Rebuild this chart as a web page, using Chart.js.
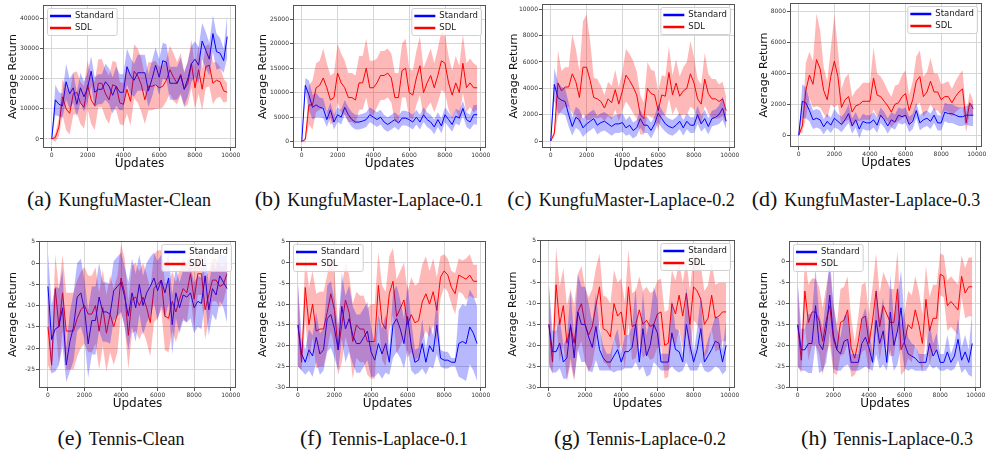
<!DOCTYPE html>
<html lang="en">
<head>
<meta charset="UTF-8">
<title>Standard vs SDL</title>
<script src="https://cdn.jsdelivr.net/npm/chart.js"></script>
<style>
  body { margin: 0; background: #fff; width: 992px; height: 452px; overflow: hidden; position: relative; }
  .panel { position: absolute; }
  .caption { position: absolute; font-family: "Liberation Serif", "Times New Roman", serif; font-size: 18px; line-height: 22px; color: #111; white-space: nowrap; transform: translateX(-50%); }
  .caption span { font-size: 22px; margin-right: 7px; }
</style>
</head>
<body>
<script>
// x positions (updates) shared by every panel
const updates = [0,200,400,600,800,1000,1200,1400,1600,1800,2000,2200,2400,2600,2800,3000,3200,3400,3600,3800,
  4000,4200,4400,4600,4800,5000,5200,5400,5600,5800,6000,6200,6400,6600,6800,7000,7200,7400,7600,7800,
  8000,8200,8400,8600,8800,9000,9200,9400,9600,9800];
const xTicks = [0, 2000, 4000, 6000, 8000, 10000];
const seriesNames = ['Standard', 'SDL'];
const captions = [
  ['(a)', 'KungfuMaster-Clean'], ['(b)', 'KungfuMaster-Laplace-0.1'], ['(c)', 'KungfuMaster-Laplace-0.2'], ['(d)', 'KungfuMaster-Laplace-0.3'],
  ['(e)', 'Tennis-Clean'], ['(f)', 'Tennis-Laplace-0.1'], ['(g)', 'Tennis-Laplace-0.2'], ['(h)', 'Tennis-Laplace-0.3']
];

// (a) KungfuMaster-Clean
const kmCleanStd = [0,13000,11500,11000,19000,15000,17000,11500,17000,14000,17000,22500,15500,16500,16500,19000,17500,14500,17500,15500,
  15500,24000,21000,19500,22000,22000,22000,16000,20000,24500,20500,26000,25500,18500,18500,18500,21000,16500,20000,25000,
  26500,24500,32500,29500,26500,35000,29000,28500,26000,34000];
const kmCleanStdSd = [0,5000,4000,4000,6000,5000,5000,4000,5000,5000,5000,5000,5000,5000,5000,6000,6000,6000,6500,6000,
  6000,6000,6000,5500,6000,6000,6000,5500,6000,6000,6000,6000,6000,5500,5500,5500,6000,5500,6000,6000,
  6000,6000,6000,6000,5500,6000,6000,5000,4000,7000];
const kmCleanSdl = [0,500,4000,14000,10000,8500,15000,15500,12000,10500,18000,13000,11000,18500,18500,15000,13000,18000,17500,12000,
  11500,16500,12500,22500,21000,18000,13000,17500,17500,18000,17000,17500,19500,23000,20500,18500,21500,16500,18500,25000,
  17000,23000,16500,24000,24500,18500,19500,19000,16000,15500];
const kmCleanSdlSd = [0,1500,3000,6000,7000,7000,7000,7000,7000,7000,8000,8000,8000,8000,8000,8000,8000,8000,8000,7000,
  7000,8000,8000,9000,9000,9000,8000,8000,8000,8000,7000,7000,7000,8000,8000,7000,7000,6000,7000,8000,
  7000,8000,7000,7000,7000,7000,6000,5000,4000,3000];

// (b) KungfuMaster-Laplace-0.1
const kmL1Std = [0,11500,9500,7000,7500,7000,6800,4500,6500,4000,5500,5000,7000,5500,4500,4000,4000,4200,4500,5500,
  5000,4500,5000,4000,3500,4000,4500,3800,4800,4800,4500,4000,5000,4000,5500,4500,4000,3000,4500,3200,
  5500,4500,3500,5200,4800,6800,4500,4000,5500,5500];
const kmL1StdSd = [0,1500,3000,2500,2500,2000,2000,1500,1500,1500,1500,1500,1500,1500,1500,1500,1500,1500,1500,1500,
  1500,1500,1500,1500,1500,1500,1500,1500,1500,1500,1500,1500,1500,1500,1500,1500,1500,1500,1500,1500,
  1500,1500,1500,1500,1500,1500,1500,1500,2000,2000];
const kmL1Sdl = [0,500,7500,7500,11000,11500,13000,11000,8500,9000,14000,12000,11000,9000,9000,8500,12000,12000,15000,11000,
  11000,12000,13500,13500,14000,13000,9000,9000,14500,15000,10000,9500,13000,15500,10000,12000,13500,11000,13500,16500,
  16000,12000,9500,12000,10000,16000,11000,12000,11000,11000];
const kmL1SdlSd = [0,500,4000,5000,5000,5000,6000,5000,5000,5000,6000,6000,5500,5000,5000,5000,5500,5500,6000,5500,
  5500,5000,5000,5000,5000,5000,5000,5000,5500,6000,5000,5000,5500,6000,5000,5000,5500,5000,5500,6000,
  6000,5500,5000,5500,5500,6000,5000,5000,5000,4500];

// (c) KungfuMaster-Laplace-0.2
const kmL2Std = [0,4300,3300,3100,3000,2000,1100,1800,1600,1000,1300,1500,1700,1200,1400,1500,1300,1100,1300,1300,
  1400,1000,1200,800,1000,1700,1200,1200,800,1300,2100,1700,1300,1100,1000,1200,1500,1000,1500,1200,
  1200,2000,1300,1700,1100,1700,1800,2000,2500,1500];
const kmL2StdSd = [0,1200,1200,1000,1000,900,700,800,800,700,700,700,700,700,700,700,700,700,700,700,
  700,600,700,600,600,700,600,600,600,600,700,700,600,600,600,600,600,600,600,600,
  600,700,600,700,600,600,600,700,900,600];
const kmL2Sdl = [0,600,4400,3800,4100,4100,5100,4500,3300,5600,5600,4600,3300,3200,3000,2500,3200,2900,3900,2800,
  3800,5000,4600,4100,3500,2000,1700,4000,3600,3500,2300,3500,3400,5200,3500,4400,3400,3800,4000,5100,
  4400,3200,2800,4700,3600,3200,3200,3000,3200,2300];
const kmL2SdlSd = [0,300,2500,1500,1500,1500,3000,2500,2000,3500,4000,3000,1500,1500,1200,1000,1300,1300,1500,1300,
  1500,2000,2000,2000,1800,1500,1200,2000,1800,1800,1500,1500,1500,2000,1500,1800,1500,1800,2000,2500,
  2000,1500,1500,2000,1500,1500,1500,1300,1300,1000];

// (d) KungfuMaster-Laplace-0.3
const kmL3Std = [0,2200,2100,1600,1000,1100,1000,550,900,650,1100,900,700,1000,1400,600,1000,400,900,800,
  800,1000,650,1300,1000,600,1000,850,1300,1200,1300,700,900,1600,800,1000,1100,900,1300,800,
  800,1500,1400,1400,1300,1200,1200,1300,1300,1300];
const kmL3StdSd = [0,1100,1000,700,600,600,600,500,500,500,600,500,500,500,600,500,500,600,500,500,
  500,500,500,500,500,500,500,500,500,500,500,500,500,500,500,500,500,500,500,500,
  500,600,600,600,600,600,600,600,700,700];
const kmL3Sdl = [0,600,2900,3900,3300,4900,4300,2900,2300,3800,4800,3800,1800,2300,2500,1500,1900,2000,2200,2200,
  2200,3700,2600,2500,2200,1900,1500,2000,2100,2500,2700,1600,2300,3500,3800,2500,2800,3500,2800,2800,
  2300,2500,2500,2100,2500,2800,3000,800,2100,1700];
const kmL3SdlSd = [0,400,1800,1500,1500,3000,2500,1500,1200,1800,3000,1800,1200,1400,1500,1000,1000,1100,1200,1200,
  1200,2000,1400,1300,1200,1000,1000,1200,1200,1400,1500,1000,1200,1600,1700,1300,1300,1500,1200,1200,
  1000,900,1000,900,1000,1100,1200,600,700,500];

// (e) Tennis-Clean
const tnCleanStd = [-5.5,-18,-15.5,-15,-10.5,-24,-18.5,-15,-8,-7,-11,-19,-13.5,-13.5,-8,-11.5,-11.5,-12,-6.5,-5.5,
  -4.5,-8,-12.5,-7,-10.5,-5,-10,-7,-5.5,-3.5,-6.5,-4,-7,-3.5,-14.5,-7,-10.5,-7.5,-8,-7,
  -10.5,-9,-9.5,-3,-11,-6,-7.5,-3,-4.5,-6];
const tnCleanStdSd = [8,8,10,9,9,4,7,8,8,8,7,8,8,8,8,7,7,7,7,7,7,7,8,8,8,7,7,7,7,6,7,6,6,6,7,6,6,6,6,6,6,6,6,6,6,6,6,6,6,8];
const tnCleanSdl = [-15,-24,-6,-15,-7,-16,-16,-16,-13,-11,-10,-12,-12,-10,-16,-10.5,-16.5,-12,-15,-12,
  -3.5,-7,-17,-8.5,-8,-10,-8,-10.5,-14,-6,-5,-4,-12.5,-13,-9,-11.5,-8.5,-6,-7,-2.5,
  -8.5,-2.5,-2.5,-11,-7.5,-4,-4,-5.5,-5,-2.5];
const tnCleanSdlSd = [9,2,8,9,9,9,9,9,9,9,9,9,9,9,9,9,9,9,9,9,8,8,8,8,8,8,8,8,8,8,8,7,8,8,7,7,7,7,7,5,7,5,5,7,6,5,5,5,4,3];

// (f) Tennis-Laplace-0.1
const tnL1Std = [-15,-22,-24,-21,-22.5,-18,-22,-21,-13.5,-12.5,-16,-21,-10.5,-16,-13.5,-17.5,-19.5,-19.5,-18,-16.5,
  -21.5,-23.5,-19.5,-22,-19.5,-24,-15,-13.5,-16,-19.5,-13,-20,-24,-23.5,-19.5,-24,-20,-21.5,-15,-23,
  -23.5,-23.5,-24,-24,-19.5,-19,-19.5,-15.5,-17,-19.5];
const tnL1StdSd = [10,4,3,5,5,6,5,5,8,8,7,5,8,8,8,7,7,7,7,7,6,4,7,6,7,3,8,8,7,6,8,6,3,3,6,3,5,4,7,2,2,2,1,1,8,9,9,9,9,9];
const tnL1Sdl = [-15,-24,-6,-15,-10,-16.5,-16,-16,-12,-7.5,-11.5,-21,-15,-9,-12,-19,-15,-16,-16,-19,
  -19,-19,-5.5,-14.5,-16,-7.5,-4.5,-13,-11,-9,-15,-12.5,-14.5,-14,-9.5,-7.5,-10,-7,-11.5,-3.5,
  -2,-3,-6,-7.5,-3,-3.5,-4,-3,-4.5,-4.5];
const tnL1SdlSd = [10,2,8,9,8,9,9,9,9,9,9,6,9,9,9,9,8,8,8,8,9,9,8,9,9,9,8,9,9,9,8,9,9,9,9,9,8,8,8,5,4,4,4,5,4,4,5,5,4,4];

// (g) Tennis-Laplace-0.2
const tnL2Std = [-15,-21.5,-21.5,-19.5,-24,-23,-15,-23,-12,-15,-15,-18,-20.5,-15.5,-21,-23,-24,-24,-22.5,-21,
  -24,-21.5,-21.5,-20.5,-15,-24,-16,-22.5,-20,-15,-17,-24,-24,-24,-17,-21,-21.5,-24,-15,-20,
  -24,-21,-16,-24,-22.5,-21,-19,-19.5,-24,-20];
const tnL2StdSd = [10,5,5,6,4,5,8,5,9,9,9,8,6,8,5,3,2,2,4,5,2,4,4,5,9,2,9,5,7,9,8,2,2,2,8,5,5,2,9,6,2,5,8,2,4,5,6,6,3,6];
const tnL2Sdl = [-15,-24,-5.5,-15,-10.5,-19.5,-15.5,-19.5,-12,-10,-15,-17.5,-15.5,-10.5,-6,-16,-16.5,-18,-10,-13,
  -12,-17.5,-6,-15.5,-15,-11.5,-15,-14,-15.5,-15,-12.5,-12,-20,-19.5,-10,-12.5,-8,-13,-7.5,-15,
  -6,-7,-9,-15,-13.5,-8,-13.5,-13,-12,-12];
const tnL2SdlSd = [9,3,9,9,9,9,9,9,9,9,9,9,9,9,8,8,8,8,8,8,8,8,9,8,8,8,8,8,8,8,8,8,8,8,8,8,8,8,8,8,8,8,8,8,8,8,8,8,7,7];

// (h) Tennis-Laplace-0.3
const tnL3Std = [-15,-21,-21,-19.5,-19.5,-10.5,-19.5,-21,-16,-8,-17.5,-21,-22,-19,-18.5,-24,-24,-24,-19.5,-18,
  -20.5,-24,-14,-19.5,-16.5,-24,-12,-20,-16.5,-11,-19.5,-22,-22.5,-23,-24,-24,-24,-19.5,-22.5,-21,
  -24,-24,-21.5,-24,-22.5,-18.5,-23.5,-21.5,-24,-19.5];
const tnL3StdSd = [10,5,5,7,7,9,7,5,8,9,8,5,4,6,6,2,2,2,6,7,5,2,8,6,8,2,9,6,8,9,6,4,3,3,2,2,2,5,3,4,2,2,4,2,3,5,3,4,3,8];
const tnL3Sdl = [-15,-23.5,-7,-14.5,-12,-12,-14,-19,-14,-10.5,-18.5,-21,-14.5,-14,-11.5,-20.5,-23,-19,-13.5,-13,
  -19.5,-14,-7,-15.5,-10.5,-12.5,-14.5,-14.5,-6.5,-21,-19,-15,-16,-11.5,-15,-19.5,-9,-16.5,-13.5,-13.5,
  -3,-3.5,-10.5,-9.5,-10.5,-11.5,-3.5,-7.5,-6,-6];
const tnL3SdlSd = [10,3,8,9,8,8,8,8,8,9,8,6,8,8,8,7,4,6,8,8,7,8,9,8,8,8,8,8,9,6,7,8,8,8,8,7,8,8,8,8,5,5,6,6,6,6,5,6,7,7];

// y tick labels per panel
const yTicksKmClean = [0, 10000, 20000, 30000, 40000];
const yTicksKmL1 = [0, 5000, 10000, 15000, 20000, 25000];
const yTicksKmL2 = [0, 2000, 4000, 6000, 8000, 10000];
const yTicksKmL3 = [0, 2000, 4000, 6000, 8000];
const yTicksTnClean = [-25, -20, -15, -10, -5, 0, 5];
const yTicksTnL = [-30, -25, -20, -15, -10, -5, 0, 5];
const yTicksTnL3 = [-30, -25, -20, -15, -10, -5, 0];

const lineColors = ['rgb(0,0,255)', 'rgb(255,0,0)'];
const bandColors = ['rgba(0,0,255,0.28)', 'rgba(255,0,0,0.28)'];

// box = plot area [left, top, right, bottom] in page pixels
const panels = [
  { std: kmCleanStd, stdSd: kmCleanStdSd, sdl: kmCleanSdl, sdlSd: kmCleanSdlSd, yTicks: yTicksKmClean, y: [-3000, 44500], box: [43, 5, 236, 148], titleX: 13, side: 'left', cap: [119, 188] },
  { std: kmL1Std, stdSd: kmL1StdSd, sdl: kmL1Sdl, sdlSd: kmL1SdlSd, yTicks: yTicksKmL1, y: [-1300, 27900], box: [293, 5, 486, 148], titleX: 263, side: 'right', cap: [369, 188] },
  { std: kmL2Std, stdSd: kmL2StdSd, sdl: kmL2Sdl, sdlSd: kmL2SdlSd, yTicks: yTicksKmL2, y: [-530, 10400], box: [542, 4, 735, 148], titleX: 514, side: 'right', cap: [621, 188] },
  { std: kmL3Std, stdSd: kmL3StdSd, sdl: kmL3Sdl, sdlSd: kmL3SdlSd, yTicks: yTicksKmL3, y: [-760, 8560], box: [790, 3, 982, 147], titleX: 764, side: 'right', cap: [866, 188] },
  { std: tnCleanStd, stdSd: tnCleanStdSd, sdl: tnCleanSdl, sdlSd: tnCleanSdlSd, yTicks: yTicksTnClean, y: [-29.4, 5.2], box: [39, 241, 236, 388], titleX: 13, side: 'right', cap: [121, 427] },
  { std: tnL1Std, stdSd: tnL1StdSd, sdl: tnL1Sdl, sdlSd: tnL1SdlSd, yTicks: yTicksTnL, y: [-30.2, 5.2], box: [289, 241, 486, 388], titleX: 263, side: 'left', cap: [384, 427] },
  { std: tnL2Std, stdSd: tnL2StdSd, sdl: tnL2Sdl, sdlSd: tnL2SdlSd, yTicks: yTicksTnL, y: [-30.2, 5.2], box: [540, 240, 735, 388], titleX: 513, side: 'right', cap: [640, 427] },
  { std: tnL3Std, stdSd: tnL3StdSd, sdl: tnL3Sdl, sdlSd: tnL3SdlSd, yTicks: yTicksTnL3, y: [-30.1, 4.9], box: [789, 241, 981, 388], titleX: 764, side: 'left', cap: [887, 427] }
];

Chart.defaults.font.family = '"DejaVu Sans", sans-serif';

// frame round the plot area and the small legend box inside it
const frameLegend = {
  id: 'frameLegend',
  afterDatasetsDraw(chart, args, opts) {
    const { ctx, chartArea: a } = chart;
    ctx.save();
    ctx.strokeStyle = '#555';
    ctx.lineWidth = 1;
    ctx.strokeRect(a.left + 0.5, a.top + 0.5, a.right - a.left - 1, a.bottom - a.top - 1);

    ctx.font = '8.5px "DejaVu Sans"';
    const tw = Math.max(...seriesNames.map(n => ctx.measureText(n).width));
    const w = 31 + tw, h = 27;
    const x = opts.side === 'left' ? a.left + 4 : a.right - 5 - w;
    const y = a.top + 3;
    ctx.fillStyle = 'rgba(255,255,255,0.8)';
    ctx.strokeStyle = '#d0d0d0';
    ctx.beginPath();
    ctx.roundRect(x + 0.5, y + 0.5, w, h, 2);
    ctx.fill();
    ctx.stroke();
    ctx.textBaseline = 'middle';
    seriesNames.forEach((n, i) => {
      const cy = y + 8 + i * 12;
      ctx.strokeStyle = lineColors[i];
      ctx.lineWidth = 2.5;
      ctx.beginPath();
      ctx.moveTo(x + 3, cy);
      ctx.lineTo(x + 24, cy);
      ctx.stroke();
      ctx.fillStyle = '#222';
      ctx.fillText(n, x + 28, cy);
    });
    ctx.restore();
  }
};

const pts = (m, sd, s) => m.map((v, i) => ({ x: updates[i], y: sd ? v + s * sd[i] : v }));

panels.forEach((p, k) => {
  const [L, T, R, B] = p.box;
  const left = p.titleX - 6, top = T - 5;
  const width = R + 10 - left, height = B + 23 - top;
  const div = document.createElement('div');
  div.className = 'panel';
  div.style.left = left + 'px';
  div.style.top = top + 'px';
  const canvas = document.createElement('canvas');
  canvas.width = width;
  canvas.height = height;
  div.appendChild(canvas);
  document.body.appendChild(div);

  const band = { borderWidth: 0, borderColor: 'transparent', pointRadius: 0 };
  new Chart(canvas, {
    type: 'line',
    data: {
      datasets: [
        { ...band, data: pts(p.std, p.stdSd, 1), backgroundColor: bandColors[0], fill: '+1' },
        { ...band, data: pts(p.std, p.stdSd, -1), fill: false },
        { ...band, data: pts(p.sdl, p.sdlSd, 1), backgroundColor: bandColors[1], fill: '+1' },
        { ...band, data: pts(p.sdl, p.sdlSd, -1), fill: false },
        { label: seriesNames[0], data: pts(p.std), borderColor: lineColors[0], borderWidth: 1, pointRadius: 0, fill: false },
        { label: seriesNames[1], data: pts(p.sdl), borderColor: lineColors[1], borderWidth: 1, pointRadius: 0, fill: false }
      ]
    },
    options: {
      responsive: false,
      animation: false,
      devicePixelRatio: 1,
      layout: { padding: { top: 5, right: 10, left: 0, bottom: 0 } },
      plugins: { legend: { display: false }, tooltip: { enabled: false }, frameLegend: { side: p.side } },
      scales: {
        x: {
          type: 'linear', min: -490, max: 10290,
          afterBuildTicks: s => { s.ticks = xTicks.map(v => ({ value: v })); },
          afterFit: s => { s.height = 23; },
          ticks: { font: { size: 6 }, color: '#333', padding: 1, maxRotation: 0, autoSkip: false, callback: v => String(v) },
          grid: { color: '#d6d6d6', tickLength: 3, tickColor: '#555' },
          border: { display: false },
          title: { display: true, text: 'Updates', color: '#111', font: { size: 12 }, padding: 0 }
        },
        y: {
          min: p.y[0], max: p.y[1],
          afterBuildTicks: s => { s.ticks = p.yTicks.map(v => ({ value: v })); },
          afterFit: s => { s.width = L - left; },
          ticks: { font: { size: 6 }, color: '#333', padding: 1, autoSkip: false, callback: v => String(v) },
          grid: { color: '#d6d6d6', tickLength: 3, tickColor: '#555' },
          border: { display: false },
          title: { display: true, text: 'Average Return', color: '#111', font: { size: 11 }, padding: 0 }
        }
      }
    },
    plugins: [frameLegend]
  });

  const cap = document.createElement('div');
  cap.className = 'caption';
  cap.style.left = p.cap[0] + 'px';
  cap.style.top = p.cap[1] + 'px';
  cap.innerHTML = '<span>' + captions[k][0] + '</span>' + captions[k][1];
  document.body.appendChild(cap);
});
</script>
</body>
</html>
